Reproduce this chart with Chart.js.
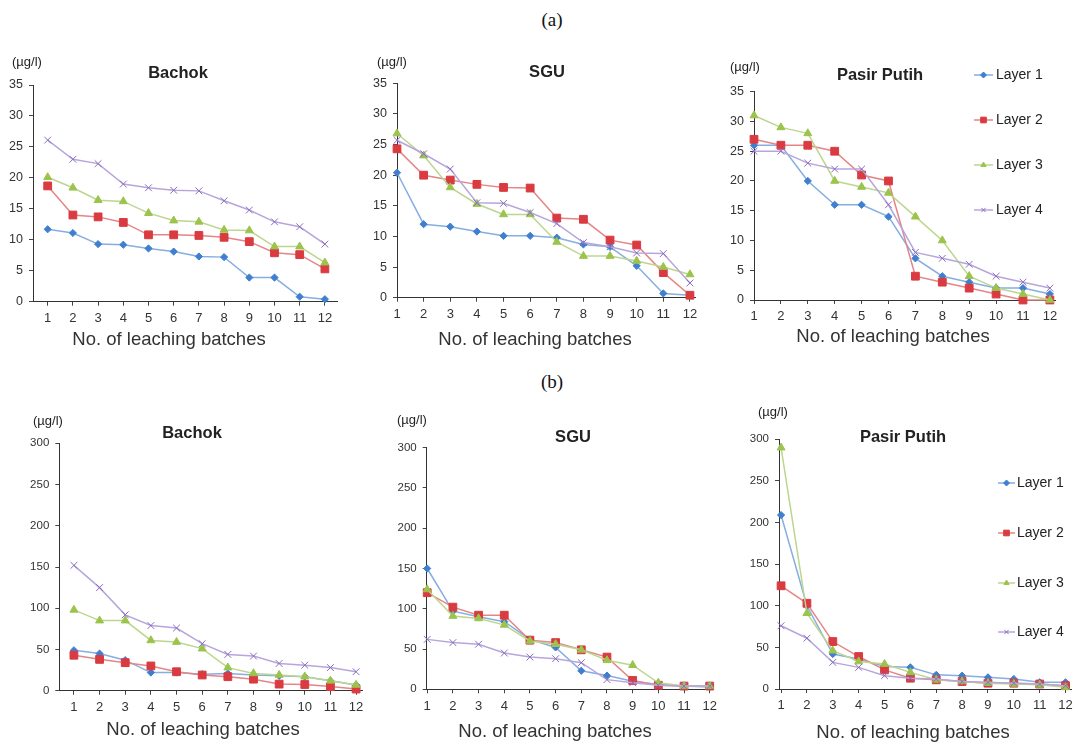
<!DOCTYPE html>
<html lang="en">
<head>
<meta charset="utf-8">
<title>Leaching batches</title>
<script src="https://cdn.jsdelivr.net/npm/chart.js@4.4.1/dist/chart.umd.min.js"></script>
<style>
  body { margin: 0; background: #fff; width: 1078px; height: 743px; position: relative; overflow: hidden; }
  canvas { position: absolute; }
  .tag { position: absolute; font-family: "Liberation Serif", "Times New Roman", serif; font-size: 19px; color: #111; transform: translate(-50%, -50%); }
</style>
</head>
<body>
<div class="tag" style="left:552px;top:20px">(a)</div>
<div class="tag" style="left:552px;top:382px">(b)</div>
<canvas id="a1"></canvas>
<canvas id="a2"></canvas>
<canvas id="a3"></canvas>
<canvas id="b1"></canvas>
<canvas id="b2"></canvas>
<canvas id="b3"></canvas>
<script>
const batches = [1, 2, 3, 4, 5, 6, 7, 8, 9, 10, 11, 12];
const layerNames = ['Layer 1', 'Layer 2', 'Layer 3', 'Layer 4'];

// (a) µg/l, 0-35
const bachokA1 = [11.7, 11.1, 9.3, 9.2, 8.6, 8.1, 7.3, 7.2, 3.9, 3.9, 0.8, 0.4];
const bachokA2 = [18.7, 14.0, 13.7, 12.8, 10.8, 10.8, 10.7, 10.4, 9.7, 7.9, 7.6, 5.3];
const bachokA3 = [20.1, 18.4, 16.4, 16.2, 14.3, 13.1, 12.9, 11.6, 11.5, 8.9, 8.9, 6.3];
const bachokA4 = [26.1, 23.0, 22.3, 19.0, 18.4, 18.0, 17.9, 16.3, 14.8, 12.9, 12.1, 9.3];

const sguA1 = [20.4, 12.0, 11.6, 10.8, 10.1, 10.1, 9.8, 8.7, 8.3, 5.2, 0.7, 0.4];
const sguA2 = [24.3, 20.0, 19.2, 18.5, 18.0, 17.9, 13.0, 12.8, 9.4, 8.6, 4.1, 0.4];
const sguA3 = [26.8, 23.2, 18.0, 15.3, 13.6, 13.6, 9.1, 6.8, 6.8, 6.0, 5.0, 3.8];
const sguA4 = [25.7, 23.5, 21.0, 15.5, 15.4, 13.9, 12.1, 9.0, 8.3, 7.3, 7.2, 2.4];

const pasirA1 = [26, 26, 20, 16, 16, 14, 7, 4, 3, 2, 2, 1];
const pasirA2 = [27, 26, 26, 25, 21, 20, 4, 3, 2, 1, 0, 0];
const pasirA3 = [31, 29, 28, 20, 19, 18, 14, 10, 4, 2, 1, 0];
const pasirA4 = [25, 25, 23, 22, 22, 16, 8, 7, 6, 4, 3, 2];

// (b) µg/l, 0-300
const bachokB1 = [49, 45, 37, 22, 22, 20, 21, 19, 18, 17, 12, 7];
const bachokB2 = [43, 38, 34, 30, 23, 19, 17, 14, 8, 7.5, 5, 2];
const bachokB3 = [98, 85, 85, 61, 59, 51, 28, 21, 19, 17, 12, 7];
const bachokB4 = [152, 125, 92, 79, 76, 57, 44, 42, 33, 31, 28, 23];

const sguB1 = [150, 97, 90, 84, 62, 52, 23, 17, 10, 6, 4, 3];
const sguB2 = [120, 102, 92, 92, 61, 58, 49, 40, 11, 5, 4, 4];
const sguB3 = [124, 91, 88, 80, 60, 56, 49, 36, 30, 8, 4, 4];
const sguB4 = [62, 58, 56, 45, 40, 38, 33, 12, 8, 5, 4, 4];

const pasirB1 = [209, 100, 42, 36, 27, 26, 17, 16, 14, 12, 8, 8];
const pasirB2 = [124, 103, 57, 39, 23, 13, 11, 9, 7, 7, 6, 4];
const pasirB3 = [290, 91, 46, 33, 30, 20, 11, 9, 7, 6, 5, 2];
const pasirB4 = [76, 61, 32, 26, 16, 13, 12, 9, 8, 7, 6, 4];

const markerStyles = ['rectRot', 'rect', 'triangle', 'crossRot'];
const markerSizes = [3.6, 5.5, 4.6, 4.8];
const markerColors = ['#3f7fd0', '#d93b40', '#9cc34c', '#8a6cc0'];
const lineColors = ['#86aee0', '#e58585', '#bcd68e', '#b7a6dc'];

const FONT = '"Liberation Sans", Arial, sans-serif';

// box = canvas [left, top, w, h]; area = plot [left, top, right, bottom] in page px
const panels = [
  { id: 'a1', box: [0, 40, 355, 320], area: [33, 85, 337, 301.7], x: [0.417, 12.48], yMax: 35, yStep: 5, yFont: 12.5,
    series: [bachokA1, bachokA2, bachokA3, bachokA4], title: ['Bachok', 178, 73], unit: [12, 62], xTitle: [169, 340] },
  { id: 'a2', box: [360, 40, 360, 320], area: [397, 83.3, 695, 297.7], x: [1, 12.19], yMax: 35, yStep: 5, yFont: 12.5,
    series: [sguA1, sguA2, sguA3, sguA4], title: ['SGU', 547, 72], unit: [377, 62], xTitle: [535, 340] },
  { id: 'a3', box: [720, 40, 358, 320], area: [754, 91.7, 1055, 300], x: [1, 12.19], yMax: 35, yStep: 5, yFont: 12.5,
    series: [pasirA1, pasirA2, pasirA3, pasirA4], title: ['Pasir Putih', 880, 75], unit: [730, 67], xTitle: [893, 337],
    legend: { line: [974, 993], text: 996, ys: [75, 120, 165, 210] } },
  { id: 'b1', box: [0, 395, 370, 348], area: [59.3, 443.3, 362, 690.7], x: [0.43, 12.23], yMax: 300, yStep: 50, yFont: 11.5,
    series: [bachokB1, bachokB2, bachokB3, bachokB4], title: ['Bachok', 192, 433], unit: [33, 421], xTitle: [203, 730] },
  { id: 'b2', box: [372, 395, 350, 348], area: [426.7, 447.7, 717, 689.3], x: [0.98, 12.12], yMax: 300, yStep: 50, yFont: 11.5,
    series: [sguB1, sguB2, sguB3, sguB4], title: ['SGU', 573, 437], unit: [397, 420], xTitle: [555, 732] },
  { id: 'b3', box: [725, 395, 353, 348], area: [779, 439.3, 1076, 689], x: [0.92, 12.23], yMax: 300, yStep: 50, yFont: 11.5,
    series: [pasirB1, pasirB2, pasirB3, pasirB4], title: ['Pasir Putih', 903, 437], unit: [758, 412], xTitle: [913, 733],
    legend: { line: [998, 1015], text: 1017, ys: [483, 533, 583, 632] } }
];

function textPlugin(p) {
  return {
    id: 'panelText',
    afterDraw(chart) {
      const ctx = chart.ctx;
      const ox = p.box[0], oy = p.box[1];
      ctx.save();
      ctx.fillStyle = '#222';
      ctx.textBaseline = 'middle';
      ctx.textAlign = 'left';
      ctx.font = '13px ' + FONT;
      ctx.fillText('(µg/l)', p.unit[0] - ox, p.unit[1] - oy);
      ctx.textAlign = 'center';
      ctx.font = 'bold 16.5px ' + FONT;
      ctx.fillText(p.title[0], p.title[1] - ox, p.title[2] - oy);
      ctx.font = '18.5px ' + FONT;
      ctx.fillStyle = '#333';
      ctx.fillText('No. of leaching batches', p.xTitle[0] - ox, p.xTitle[1] - oy);

      if (p.legend) {
        const lg = p.legend;
        ctx.font = '14px ' + FONT;
        ctx.textAlign = 'left';
        layerNames.forEach((name, i) => {
          const y = lg.ys[i] - oy;
          ctx.strokeStyle = lineColors[i];
          ctx.lineWidth = 1.5;
          ctx.beginPath();
          ctx.moveTo(lg.line[0] - ox, y);
          ctx.lineTo(lg.line[1] - ox, y);
          ctx.stroke();
          ctx.fillStyle = markerColors[i];
          ctx.strokeStyle = markerColors[i];
          ctx.lineWidth = 1;
          Chart.helpers.drawPoint(ctx, { pointStyle: markerStyles[i], radius: i === 1 ? 4 : 3, rotation: 0, borderWidth: 1 },
            (lg.line[0] + lg.line[1]) / 2 - ox, y);
          ctx.fillStyle = '#222';
          ctx.fillText(name, lg.text - ox, y + 0.5);
        });
      }
      ctx.restore();
    }
  };
}

panels.forEach(p => {
  const [left, top, w, h] = p.box;
  const [al, at, ar, ab] = p.area;
  const cv = document.getElementById(p.id);
  cv.width = w;
  cv.height = h;
  cv.style.left = left + 'px';
  cv.style.top = top + 'px';

  const axisGrid = { display: true, drawOnChartArea: false, drawTicks: true, tickLength: 4, color: '#444' };
  const axisBorder = { display: true, color: '#333', width: 1 };

  new Chart(cv.getContext('2d'), {
    type: 'line',
    data: {
      datasets: p.series.map((vals, i) => ({
        label: layerNames[i],
        data: vals.map((v, j) => ({ x: batches[j], y: v })),
        borderColor: lineColors[i],
        borderWidth: 1.5,
        pointStyle: markerStyles[i],
        pointRadius: markerSizes[i],
        pointBackgroundColor: markerColors[i],
        pointBorderColor: markerColors[i],
        pointBorderWidth: 1,
        tension: 0,
        clip: false,
        order: 3 - i
      }))
    },
    options: {
      responsive: false,
      animation: false,
      layout: { padding: { top: at - top, right: left + w - ar, left: 0, bottom: 0 } },
      plugins: { legend: { display: false }, tooltip: { enabled: false } },
      scales: {
        x: {
          type: 'linear',
          min: p.x[0],
          max: p.x[1],
          bounds: 'data',
          afterBuildTicks: s => { s.ticks = batches.map(v => ({ value: v })); },
          afterFit: s => { s.height = h - (ab - top); },
          grid: axisGrid,
          border: axisBorder,
          ticks: { font: { size: 13, family: FONT }, color: '#333', padding: 5, maxRotation: 0, autoSkip: false }
        },
        y: {
          min: 0,
          max: p.yMax,
          afterFit: s => { s.width = al - left; },
          grid: axisGrid,
          border: axisBorder,
          ticks: { stepSize: p.yStep, font: { size: p.yFont, family: FONT }, color: '#333', padding: 6 }
        }
      }
    },
    plugins: [textPlugin(p)]
  });
});
</script>
</body>
</html>
